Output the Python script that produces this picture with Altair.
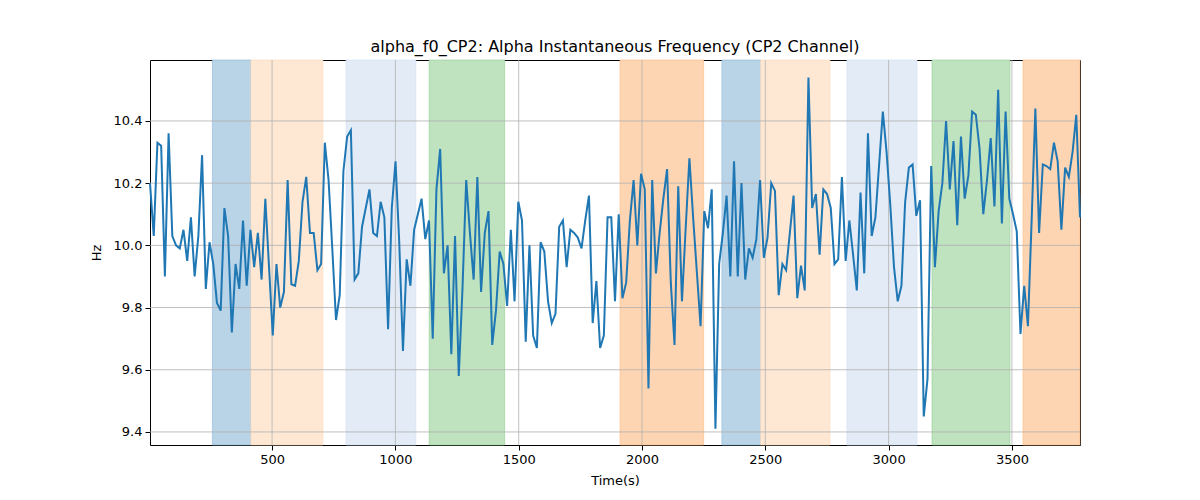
import altair as alt
import numpy as np
import pandas as pd

# Alpha instantaneous frequency (Hz), in time order
values = [
    10.20, 10.03, 10.33, 10.32, 9.90, 10.36, 10.03, 10.00, 9.99, 10.05,
    9.95, 10.09, 9.90, 10.03, 10.29, 9.86, 10.01, 9.94, 9.815, 9.79,
    10.12, 10.03, 9.72, 9.94, 9.86, 10.08, 9.87, 10.05, 9.93, 10.04,
    9.89, 10.15, 9.93, 9.71, 9.94, 9.80, 9.85, 10.21, 9.875, 9.87,
    9.95, 10.14, 10.22, 10.04, 10.04, 9.92, 9.94, 10.33, 10.21, 9.99,
    9.76, 9.84, 10.24, 10.35, 10.37, 9.89, 9.91, 10.06, 10.12, 10.18,
    10.04, 10.03, 10.14, 10.09, 9.73, 10.12, 10.27, 10.01, 9.66, 9.955,
    9.87, 10.05, 10.10, 10.15, 10.02, 10.08, 9.70, 10.18, 10.31, 9.91,
    10.00, 9.65, 10.03, 9.58, 9.86, 10.21, 10.04, 9.89, 10.22, 9.85,
    10.04, 10.11, 9.68, 9.79, 9.98, 9.94, 9.805, 10.05, 9.82, 10.14,
    10.08, 9.69, 10.00, 9.71, 9.67, 10.01, 9.98, 9.82, 9.75, 9.78,
    10.06, 10.08, 9.93, 10.05, 10.04, 10.025, 9.99, 10.08, 10.16, 9.75,
    9.885, 9.67, 9.71, 10.09, 10.09, 9.82, 10.10, 9.83, 9.88, 10.08,
    10.21, 10.00, 10.23, 10.18, 9.54, 10.21, 9.91, 10.04, 10.15, 10.245,
    9.88, 9.68, 10.19, 9.82, 10.055, 10.28, 10.09, 9.915, 9.74, 10.11,
    10.055, 10.18, 9.41, 9.94, 10.04, 10.16, 9.90, 10.27, 9.90, 10.20,
    9.89, 9.99, 9.96, 10.02, 10.21, 9.96, 10.025, 10.20, 10.175, 9.84,
    9.94, 9.92, 10.04, 10.16, 9.83, 9.935, 9.855, 10.54, 10.12, 10.165,
    9.97, 10.18, 10.165, 10.12, 9.94, 9.955, 10.22, 9.95, 10.08, 9.97,
    9.855, 10.17, 9.91, 10.36, 10.03, 10.09, 10.26, 10.43, 10.30, 10.13,
    9.93, 9.82, 9.87, 10.14, 10.25, 10.26, 10.095, 10.145, 9.45, 9.57,
    10.255, 9.93, 10.11, 10.20, 10.40, 10.18, 10.335, 10.065, 10.35, 10.15,
    10.225, 10.43, 10.42, 10.31, 10.10, 10.21, 10.345, 10.125, 10.50, 10.07,
    10.43, 10.15, 10.10, 10.045, 9.715, 9.87, 9.74, 10.08, 10.44, 10.04,
    10.26, 10.255, 10.245, 10.33, 10.27, 10.05, 10.25, 10.22, 10.30, 10.42,
    10.09,
]
# samples are evenly spaced in time between the first and last sample
T_FIRST, T_LAST = 5, 3776
times = np.linspace(T_FIRST, T_LAST, len(values))

# shaded intervals (s)
span_start = [258, 414, 800, 1137, 1911, 2324, 2481, 2831, 3176, 3545]
span_end = [414, 706, 1083, 1443, 2250, 2481, 2762, 3115, 3492, 3776]
span_kind = ["A", "B", "C", "D", "E", "A", "B", "C", "D", "E"]
kind_names = ["A", "B", "C", "D", "E"]
kind_fill = ["#b9d3e7", "#fee8d4", "#e3ebf6", "#bfe2bf", "#fed5b2"]
kind_edge = ["#8bb7d8", "#fed8b6", "#d0def5", "#93ce93", "#febb81"]

x_ticks = [500, 1000, 1500, 2000, 2500, 3000, 3500]
y_ticks = [9.4, 9.6, 9.8, 10.0, 10.2, 10.4]

FONT = "DejaVu Sans"

line_df = pd.DataFrame({"t": times, "hz": values})
span_df = pd.DataFrame({"start": span_start, "end": span_end, "kind": span_kind})
xg_df = pd.DataFrame({"xt": x_ticks})
yg_df = pd.DataFrame({"yt": y_ticks})

xscale = alt.Scale(domain=[T_FIRST, T_LAST], nice=False, zero=False)
yscale = alt.Scale(domain=[9.358, 10.596], nice=False, zero=False)
xaxis = alt.Axis(title="Time(s)", values=x_ticks, format="d")
yaxis = alt.Axis(title="Hz", values=y_ticks, format=".1f")

spans = alt.Chart(span_df).mark_rect(strokeWidth=1, strokeOpacity=0.6).encode(
    x=alt.X("start:Q", scale=xscale, axis=xaxis, title="Time(s)"),
    x2="end:Q",
    color=alt.Color("kind:N", scale=alt.Scale(domain=kind_names, range=kind_fill), legend=None),
    stroke=alt.Stroke("kind:N", scale=alt.Scale(domain=kind_names, range=kind_edge), legend=None),
)

xgrid = alt.Chart(xg_df).mark_rule(color="#b0b0b0", strokeWidth=0.8).encode(
    x=alt.X("xt:Q", scale=xscale, axis=xaxis, title="Time(s)")
)
ygrid = alt.Chart(yg_df).mark_rule(color="#b0b0b0", strokeWidth=0.8).encode(
    y=alt.Y("yt:Q", scale=yscale, axis=yaxis, title="Hz")
)

line = alt.Chart(line_df).mark_line(color="#1f77b4", strokeWidth=2).encode(
    x=alt.X("t:Q", scale=xscale, axis=xaxis, title="Time(s)"),
    y=alt.Y("hz:Q", scale=yscale, axis=yaxis, title="Hz"),
)

chart = alt.layer(spans, xgrid, ygrid, line).properties(
    width=930,
    height=385,
    autosize=alt.AutoSizeParams(type="none"),
    padding={"left": 142, "top": 52, "right": 112, "bottom": 47},
    title=alt.TitleParams(
        "alpha_f0_CP2: Alpha Instantaneous Frequency (CP2 Channel)",
        fontSize=16, fontWeight="normal", font=FONT, color="black",
        offset=-11, baseline="bottom",
    ),
).configure_view(
    stroke="black", strokeWidth=1
).configure_axis(
    grid=False, domain=False,
    labelFont=FONT, titleFont=FONT,
    labelFontSize=13, titleFontSize=13,
    labelColor="black", titleColor="black",
    titleFontWeight="normal",
    tickColor="black", tickSize=5, tickWidth=1,
    labelPadding=3,
).configure_axisX(
    titlePadding=8
).configure_axisY(
    titlePadding=10
)

chart.save("out.html", embed_options={"renderer": "svg", "actions": False})
